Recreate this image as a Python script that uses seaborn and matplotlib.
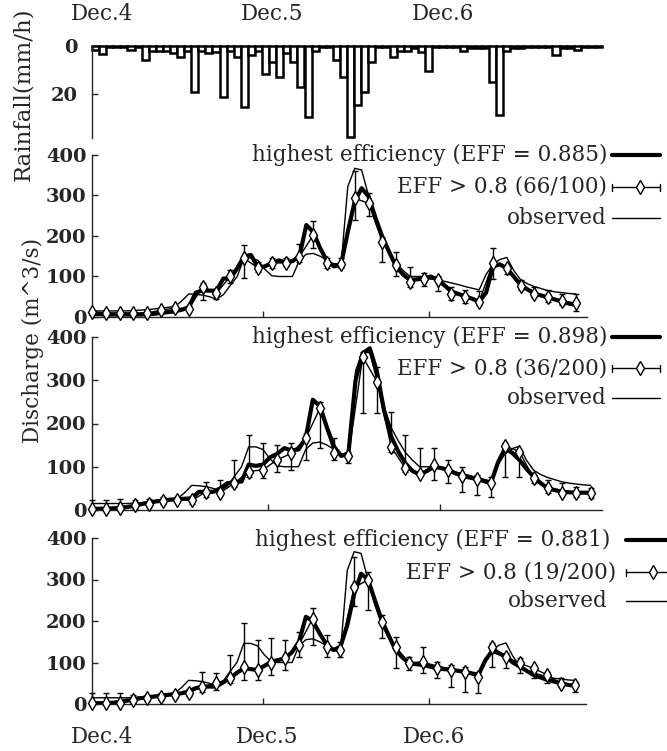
import numpy as np
import matplotlib
matplotlib.use("Agg")
import matplotlib.pyplot as plt
from matplotlib.lines import Line2D
import seaborn as sns

# ---------------- data ----------------
rain_hours = list(range(0, 72))
rainfall = [1.5, 3.3, 0.5, 0.5, 0.5, 1.5, 0.5, 5.8, 2, 2,
            2, 3, 4.5, 2, 19.3, 2, 3, 2.4, 21.4, 2,
            4.4, 25.2, 3.7, 2, 11.6, 6.5, 12.7, 3, 6.5, 17,
            29.5, 2, 0.5, 0.5, 5.8, 12.7, 38, 24.4, 19.3, 6.5,
            0.5, 0.5, 4.6, 2, 2, 1, 2.5, 10.6, 0.5, 0.5,
            0.5, 0.5, 2, 1, 1, 1, 14.8, 28.6, 2, 1,
            1, 0.5, 0.5, 0.5, 0.5, 3.7, 1, 1, 1.5, 0.5, 0.5, 0.5]

hours = list(range(0, 71))          # hourly
hours_2h = list(range(0, 71, 2))    # ensemble points

observed = [15, 15, 15, 15, 15, 15, 16, 17, 18, 20,
            22, 24, 26, 40, 57, 56, 54, 50, 44, 55,
            78, 100, 146, 146, 140, 118, 102, 100, 100, 100,
            140, 155, 157, 150, 140, 130, 124, 322, 367, 363,
            300, 240, 190, 160, 133, 115, 100, 100, 100, 96,
            92, 88, 84, 80, 75, 71, 67, 105, 130, 142,
            147, 115, 92, 82, 75, 70, 65, 62, 60, 58, 57]

best_1 = [8, 7, 6, 6, 6, 6, 6, 6, 7, 8,
          10, 12, 14, 18, 24, 60, 66, 65, 65, 95,
          95, 120, 150, 153, 122, 125, 133, 140, 135, 138,
          150, 227, 210, 170, 138, 125, 128, 210, 285, 318,
          298, 245, 198, 160, 124, 105, 91, 93, 95, 100,
          92, 78, 63, 57, 51, 45, 38, 60, 125, 130,
          120, 100, 79, 68, 58, 53, 48, 43, 38, 33, 30]
ens_1 = [13, 10, 10, 10, 10, 17, 22, 20, 75, 59, 100, 145, 121, 133, 134, 149, 202, 133,
         131, 293, 281, 186, 128, 87, 95, 92, 58, 50, 38, 133, 122, 77, 58, 50, 40, 34]
ens_1_lo = [5, 5, 5, 5, 5, 12, 15, 15, 42, 45, 85, 96, 110, 120, 125, 135, 171, 120,
            120, 240, 250, 137, 100, 75, 76, 63, 42, 34, 30, 95, 107, 67, 50, 38, 30, 15]
ens_1_hi = [18, 15, 15, 15, 15, 22, 28, 28, 84, 70, 115, 177, 135, 145, 145, 180, 237, 145,
            145, 360, 305, 198, 160, 124, 109, 100, 75, 67, 63, 170, 124, 92, 75, 67, 58, 57]

best_2 = [3, 3, 3, 4, 5, 7, 10, 14, 17, 20,
          22, 24, 25, 26, 27, 42, 42, 42, 50, 62,
          64, 66, 105, 102, 105, 122, 130, 143, 138, 140,
          166, 255, 240, 190, 146, 125, 131, 300, 362, 374,
          320, 230, 170, 135, 108, 90, 82, 90, 100, 97,
          93, 85, 79, 75, 72, 67, 62, 110, 143, 132,
          116, 95, 77, 62, 50, 46, 42, 41, 40, 40, 40]
ens_2 = [3, 3, 5, 12, 15, 20, 24, 22, 42, 40, 62, 89, 93, 116, 131, 166, 235, 131,
         124, 354, 297, 146, 96, 83, 104, 93, 78, 72, 62, 148, 135, 73, 50, 39, 39, 39]
ens_2_lo = [0, 0, 0, 3, 8, 15, 20, 15, 31, 34, 54, 77, 73, 89, 93, 116, 143, 116,
            108, 224, 224, 135, 88, 78, 70, 62, 42, 34, 31, 77, 77, 62, 39, 34, 31, 27]
ens_2_hi = [23, 23, 25, 22, 25, 30, 30, 32, 65, 69, 116, 173, 154, 150, 154, 175, 250, 166,
            135, 366, 331, 227, 173, 143, 143, 116, 100, 81, 77, 155, 139, 81, 69, 62, 54, 50]

best_3 = [2, 2, 2, 3, 5, 8, 10, 14, 16, 18,
          20, 22, 24, 26, 30, 38, 42, 42, 42, 52,
          62, 75, 86, 84, 82, 92, 102, 106, 110, 125,
          150, 210, 200, 170, 143, 130, 138, 190, 265, 314,
          300, 250, 202, 165, 130, 112, 98, 96, 94, 90,
          86, 84, 83, 80, 78, 74, 70, 105, 128, 122,
          114, 100, 90, 80, 70, 64, 58, 54, 50, 46, 44]
ens_3 = [3, 2, 2, 10, 14, 18, 22, 27, 42, 50, 62, 90, 82, 98, 110, 143, 206, 138,
         130, 281, 299, 198, 138, 98, 102, 86, 82, 78, 66, 138, 114, 98, 86, 70, 49, 45]
ens_3_lo = [0, 0, 0, 3, 8, 10, 15, 20, 30, 34, 50, 58, 58, 70, 82, 114, 143, 114,
            114, 235, 227, 158, 86, 82, 74, 62, 42, 30, 26, 90, 86, 74, 62, 50, 42, 30]
ens_3_hi = [27, 27, 27, 22, 22, 26, 30, 35, 78, 74, 118, 194, 154, 160, 154, 174, 231, 166,
            150, 355, 319, 214, 162, 114, 138, 102, 94, 90, 78, 146, 122, 110, 90, 78, 62, 54]

day_labels = ["Dec.4", "Dec.5", "Dec.6"]
day_label_pos = [1.4, 25.4, 49.6]
day_ticks = [24.75, 48.8]

legend_1 = ["highest efficiency (EFF = 0.885)", "EFF > 0.8 (66/100)", "observed"]
legend_2 = ["highest efficiency (EFF = 0.898)", "EFF > 0.8 (36/200)", "observed"]
legend_3 = ["highest efficiency (EFF = 0.881)", "EFF > 0.8 (19/200)", "observed"]

# ---------------- style ----------------
sns.set_style("ticks")
plt.rcParams["font.family"] = ["DejaVu Serif"]
plt.rcParams["xtick.direction"] = "in"
plt.rcParams["ytick.direction"] = "in"

W, H = 667, 751
fig = plt.figure(figsize=(W / 100, H / 100), dpi=100)


def box(x0, y_top, x1, y_bot):
    # pixel box -> figure fraction rect
    return [x0 / W, 1 - y_bot / H, (x1 - x0) / W, (y_bot - y_top) / H]


def fx(x):
    return x / W


def fy(y):
    return 1 - y / H


TICK_FONT = dict(fontsize=14, fontweight="bold")
TEXT_SIZE = 15.5
DIAMOND = dict(marker="d", markersize=7.6, markerfacecolor="white",
               markeredgecolor="black", markeredgewidth=1.0)

# ---------------- rainfall ----------------
ax_r = fig.add_axes(box(92, 46, 602, 138))
bars = ax_r.bar(rain_hours, rainfall, width=1, align="edge", color="white",
                edgecolor="black", linewidth=1.8)
for b in bars:
    b.set_clip_on(False)
ax_r.set_xlim(0, 72)
ax_r.set_ylim(38.3, 0)
ax_r.set_yticks([0, 20])
ax_r.set_yticklabels(["0", "20"], **TICK_FONT)
ax_r.set_xticks([])
for s in ["top", "right", "bottom"]:
    ax_r.spines[s].set_visible(False)
ax_r.spines["left"].set_linewidth(1.0)
ax_r.tick_params(axis="y", length=4, width=1, pad=10)
for xl, lab in zip(day_label_pos, day_labels):
    ax_r.text(xl, 1 + 32 / 92, lab, transform=ax_r.get_xaxis_transform(), ha="center",
              va="center", fontsize=TEXT_SIZE)
fig.text(fx(23), fy(94), "Rainfall(mm/h)", rotation=90, ha="center", va="center",
         fontsize=16.5)


# ---------------- discharge panels ----------------
def discharge_panel(rect, best, ens, lo, hi, labels, key_right, key_rows, key_x):
    ax = fig.add_axes(rect)
    sns.lineplot(x=hours, y=observed, ax=ax, color="black", linewidth=1.0)
    sns.lineplot(x=hours, y=best, ax=ax, color="black", linewidth=3.0)
    e = np.array(ens)
    yerr = [e - np.array(lo), np.array(hi) - e]
    cont = ax.errorbar(hours_2h, e, yerr=yerr, fmt="-", color="black", linewidth=1.0,
                       elinewidth=1.0, capsize=2.5, zorder=5, **DIAMOND)
    for art in cont.get_children():
        art.set_clip_on(False)
    ax.set_xlim(0, 71.6)
    ax.set_ylim(0, 400)
    ax.set_yticks([0, 100, 200, 300, 400])
    ax.set_yticklabels(["0", "100", "200", "300", "400"], **TICK_FONT)
    ax.set_xticks(day_ticks)
    ax.set_xticklabels([])
    ax.set_xlabel("")
    ax.set_ylabel("")
    for s in ["top", "right"]:
        ax.spines[s].set_visible(False)
    for s in ["left", "bottom"]:
        ax.spines[s].set_linewidth(1.0)
    ax.tick_params(length=4, width=1, pad=4)

    # key, gnuplot style: right-aligned text followed by a sample
    x0, x1 = key_x
    xm = (x0 + x1) / 2 + 4
    for i, (lab, yrow) in enumerate(zip(labels, key_rows)):
        fig.text(fx(key_right[i]), fy(yrow), lab, ha="right", va="center",
                 fontsize=TEXT_SIZE)
        yy = fy(yrow)
        if i == 0:
            fig.add_artist(Line2D([fx(x0), fx(x1)], [yy, yy], color="black", lw=3.0))
        elif i == 1:
            fig.add_artist(Line2D([fx(x0), fx(x1)], [yy, yy], color="black", lw=1.0))
            for xc in (x0, x1):
                fig.add_artist(Line2D([fx(xc), fx(xc)], [fy(yrow - 3.5), fy(yrow + 3.5)],
                                      color="black", lw=1.0))
            fig.add_artist(Line2D([fx(xm)], [yy], color="black", **DIAMOND))
        else:
            fig.add_artist(Line2D([fx(x0), fx(x1)], [yy, yy], color="black", lw=1.0))
    return ax


discharge_panel(box(92, 155, 587, 317), best_1, ens_1, ens_1_lo, ens_1_hi, legend_1,
                [607, 607, 607], [155, 187, 218], (612, 660))
discharge_panel(box(92, 337, 602, 510), best_2, ens_2, ens_2_lo, ens_2_hi, legend_2,
                [607, 607, 607], [337, 368, 398], (612, 660))
ax3 = discharge_panel(box(92, 538, 586, 704), best_3, ens_3, ens_3_lo, ens_3_hi, legend_3,
                      [610, 616, 608], [540, 572, 601], (626, 672))
for xl, lab in zip(day_label_pos, day_labels):
    ax3.text(xl, -33 / 166, lab, transform=ax3.get_xaxis_transform(), ha="center",
             va="center", fontsize=TEXT_SIZE)

fig.text(fx(33), fy(340), "Discharge (m^3/s)", rotation=90, ha="center", va="center",
         fontsize=TEXT_SIZE)

fig.savefig("out.png", dpi=100)
